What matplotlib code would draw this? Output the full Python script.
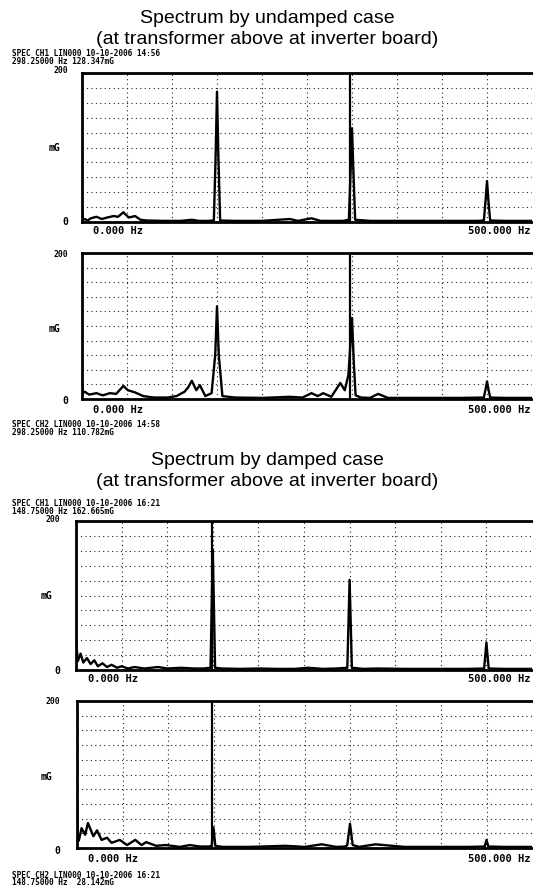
import matplotlib
matplotlib.use("Agg")
import matplotlib.pyplot as plt

W, H = 533, 890

# ---------------- data ----------------
titles_undamped = ["Spectrum by undamped case", "(at transformer above at inverter board)"]
titles_damped = ["Spectrum by damped case", "(at transformer above at inverter board)"]

hdr_u1 = ["SPEC CH1 LIN000 10-10-2006 14:56", "298.25000 Hz 128.347mG"]
hdr_u2 = ["SPEC CH2 LIN000 10-10-2006 14:58", "298.25000 Hz 110.782mG"]
hdr_d1 = ["SPEC CH1 LIN000 10-10-2006 16:21", "148.75000 Hz 162.665mG"]
hdr_d2 = ["SPEC CH2 LIN000 10-10-2006 16:21", "148.75000 Hz  28.142mG"]

cursor_undamped = 298.25
cursor_damped = 148.75

y_labels = ["200", "mG", "0"]
x_labels = ["0.000 Hz", "500.000 Hz"]

# undamped, channel 1 (frequency Hz, amplitude mG)
f_u1 = [0, 1, 3, 6, 10, 16, 22, 28, 35, 40, 46, 52, 59, 65, 72, 90, 110, 122, 130, 140,
        146.5, 148.5, 150, 151.5, 153.5, 170, 200, 231, 240, 255, 265, 290, 296.5, 298.5, 300, 301.5,
        303.5, 320, 360, 400, 440, 446.5, 448.5, 450, 451.5, 453.5, 470, 500]
a_u1 = [16, 3, 4, 2, 5, 7, 4, 6, 8, 7, 13, 6, 8, 3, 2, 1.5, 1.5, 3, 1.5, 1.5,
        2, 90, 175, 90, 2, 1.5, 1.5, 4, 1.5, 5, 1.5, 1.5, 3, 70, 126, 70,
        3, 1.5, 1.5, 1.5, 1.5, 2, 30, 55, 30, 2, 1.5, 1.5]

# undamped, channel 2
f_u2 = [0, 1, 3, 8, 16, 23, 31, 38, 46, 51, 59, 68, 80, 95, 105, 114, 118, 122, 127, 131,
        137, 144, 148, 150, 152, 156, 170, 200, 231, 245, 255, 262, 268, 277, 287, 292,
        296, 298.5, 300, 302, 304, 310, 320, 329, 340, 380, 420, 446.5, 448.5, 450, 451.5,
        453.5, 470, 500]
a_u2 = [18, 8, 10, 6, 8, 5, 8, 7, 18, 12, 9, 4, 2, 2, 4, 10, 16, 25, 12, 19,
        4, 8, 60, 127, 60, 4, 2, 1.5, 3, 2, 8, 4, 8, 3, 22, 12,
        33, 80, 111, 50, 5, 2, 1.5, 7, 1.5, 1.5, 1.5, 2, 14, 24, 14,
        2, 1.5, 1.5]

# damped, channel 1
f_d1 = [0, 2, 5, 8, 12, 16, 20, 24, 29, 34, 39, 45, 50, 57, 64, 75, 90, 100, 115, 130,
        140, 147.5, 150, 152.5, 160, 180, 200, 220, 240, 255, 270, 285, 297.5, 300, 302.5,
        315, 330, 360, 400, 430, 447.5, 450, 452.5, 470, 500]
a_d1 = [40, 12, 22, 10, 16, 8, 13, 5, 9, 4, 7, 3, 5, 2, 4, 2, 4, 2, 3, 2,
        2, 3, 162, 3, 2, 1.5, 2, 1.5, 1.5, 3, 1.5, 2, 3, 121, 3,
        1.5, 2, 1.5, 1.5, 1.5, 2, 37, 2, 1.5, 1.5]

# damped, channel 2
f_d2 = [0, 1, 2, 5, 9, 12, 18, 22, 27, 33, 38, 47, 55, 64, 71, 76, 87, 98, 113, 124,
        135, 145, 148, 150, 152, 160, 190, 229, 250, 269, 285, 295, 297, 300, 303,
        310, 328, 360, 400, 430, 448, 450, 452, 470, 500]
a_d2 = [55, 12, 10, 27, 18, 34, 16, 24, 11, 14, 7, 11, 4, 11, 4, 8, 3, 4, 1.5, 4,
        2, 2, 3, 28, 3, 1.5, 1.5, 3, 1.5, 5, 1.5, 2, 4, 33, 4,
        1.5, 5, 1.5, 1.5, 1.5, 2, 11, 2, 1.5, 1.5]

# ---------------- figure ----------------
fig = plt.figure(figsize=(W / 100, H / 100), dpi=100)
fig.patch.set_facecolor("white")

MONO = "DejaVu Sans Mono"
SANS = ["Liberation Sans", "DejaVu Sans"]


def fx(x):
    return x / W


def fy(y):
    return 1 - y / H


def txt(x, y, s, ha="left", va="center", size=7, family=MONO, weight="bold", ls=1.2):
    fig.text(fx(x), fy(y), s, ha=ha, va=va, fontsize=size, linespacing=ls,
             family=family, fontweight=weight, color="black")


def panel(left, top, bottom, f, a, cursor):
    ax = fig.add_axes([fx(left), fy(bottom), fx(532) - fx(left), fy(top) - fy(bottom)])
    ax.set_xlim(0, 500)
    ax.set_ylim(0, 200)
    for x in range(50, 500, 50):
        ax.axvline(x, color="#222222", lw=0.8, ls=(0, (1, 3)), zorder=1)
    for y in range(20, 200, 20):
        ax.axhline(y, color="#222222", lw=0.8, ls=(0, (1, 3)), zorder=1)
    ax.axvline(cursor, color="black", lw=1.6, zorder=3)
    ax.plot(f, a, color="black", lw=1.7, zorder=4)
    ax.set_xticks([])
    ax.set_yticks([])
    for s in ["left", "top", "bottom"]:
        ax.spines[s].set_linewidth(2.0)
        ax.spines[s].set_color("black")
    ax.spines["right"].set_visible(False)
    return ax


# titles
txt(267, 18.5, titles_undamped[0], ha="center", size=14, family=SANS, weight="normal")
txt(267, 39.5, titles_undamped[1], ha="center", size=14, family=SANS, weight="normal")
txt(267, 460, titles_damped[0], ha="center", size=14, family=SANS, weight="normal")
txt(267, 481, titles_damped[1], ha="center", size=14, family=SANS, weight="normal")

# panels: (left, top, bottom)
geo = [
    (82, 73, 222, f_u1, a_u1, cursor_undamped),
    (82, 253, 399, f_u2, a_u2, cursor_undamped),
    (76, 521, 670, f_d1, a_d1, cursor_damped),
    (77, 701, 848, f_d2, a_d2, cursor_damped),
]
for left, top, bottom, f, a, c in geo:
    panel(left, top, bottom, f, a, c)

# headers (two-line blocks)
for (l1, l2), ytop in [(hdr_u1, 49.5), (hdr_u2, 420), (hdr_d1, 499.5), (hdr_d2, 870.5)]:
    txt(12, ytop, l1 + "\n" + l2, va="top", size=5.6, ls=0.85)

# y labels: (right x, y for 200, y for mG, y for 0)
ylab = [(68, 70.5, 148, 222), (68, 255, 329, 401), (60, 520, 596, 671), (60, 702, 777, 851)]
for xr, y200, ym, y0 in ylab:
    txt(xr, y200, y_labels[0], ha="right", size=5.8)
    txt(xr - 8, ym, y_labels[1], ha="right", size=7)
    txt(xr, y0, y_labels[2], ha="right", size=7)

# x labels
xlab = [(93, 231), (93, 410), (88, 679), (88, 859)]
for x0, y in xlab:
    txt(x0, y, x_labels[0], size=7.5)
    txt(530, y, x_labels[1], ha="right", size=7.5)

fig.savefig("out.png", dpi=100, facecolor="white")
